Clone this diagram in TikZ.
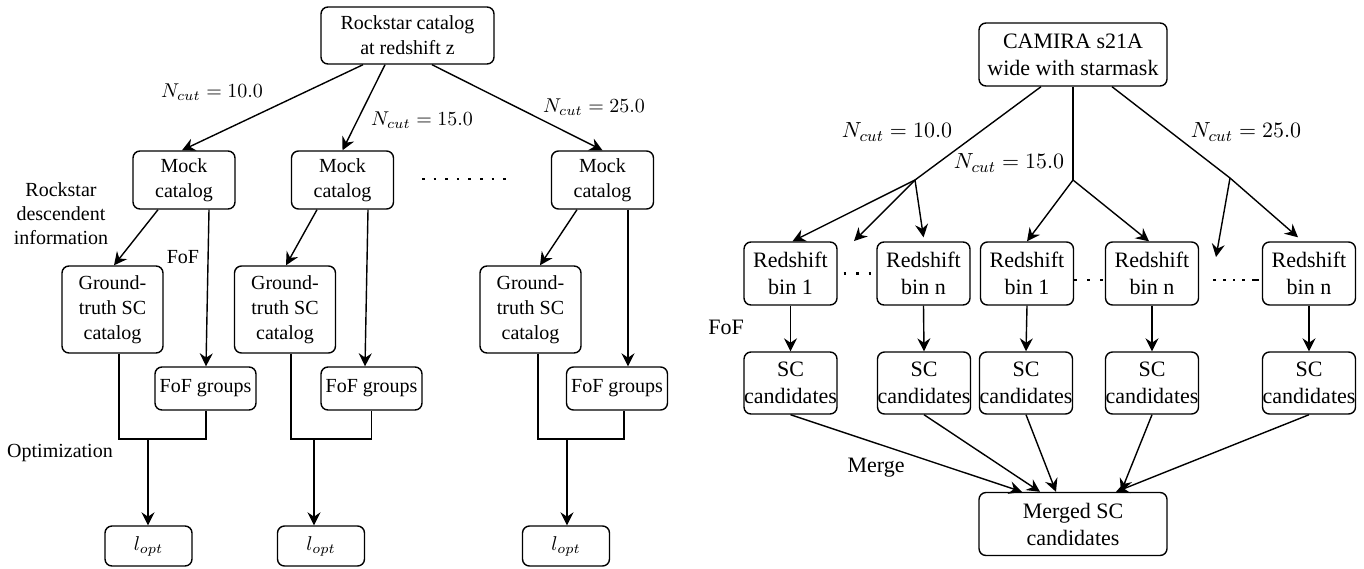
\documentclass[tikz,border=0pt]{standalone}
\usepackage{fontspec}
\setmainfont{Liberation Serif}
\newfontfamily\tnr{Liberation Serif}
\usetikzlibrary{arrows.meta}
\begin{document}
\begin{tikzpicture}[x=0.5pt,y=-0.5pt,
  line width=0.7pt,
  box/.style={draw, rounded corners=3.5pt, align=center, inner sep=0pt, font=\tnr\fontsize{10}{12.5}\selectfont},
  rbox/.style={draw, rounded corners=3.5pt, align=center, inner sep=0pt, font=\tnr\fontsize{11}{13.5}\selectfont},
  rockb/.style={box, minimum width=86.5pt, minimum height=28.5pt},
  mockb/.style={box, minimum width=51pt, minimum height=29pt},
  gtb/.style={box, minimum width=50.5pt, minimum height=43.5pt},
  fofb/.style={box, minimum width=50.5pt, minimum height=21.5pt},
  loptb/.style={box, minimum width=43.5pt, minimum height=20pt},
  camb/.style={rbox, minimum width=94pt, minimum height=31.5pt},
  binb/.style={rbox, minimum width=46.5pt, minimum height=31.5pt},
  scb/.style={rbox, minimum width=46.5pt, minimum height=31pt},
  arr/.style={-{Stealth[length=6.5pt,width=6.5pt,inset=2.2pt]}},
  lbl/.style={inner sep=0pt, align=center, font=\tnr\fontsize{10}{12}\selectfont},
  rlbl/.style={inner sep=0pt, align=center, font=\tnr\fontsize{11}{13.5}\selectfont},
  dotline/.style={line width=1.3pt},
]
\useasboundingbox (0,0) rectangle (1364,568);

% ---------------- Left panel ----------------
\node[rockb] (rock) at (407.5,35.5) {Rockstar catalog\\at redshift z};
\node[mockb] (m1) at (184,180) {Mock\\catalog};
\node[mockb] (m2) at (342.5,180) {Mock\\catalog};
\node[mockb] (m3) at (602.5,180) {Mock\\catalog};
\node[gtb] (g1) at (112.5,309.5) {Ground-\\truth SC\\catalog};
\node[gtb] (g2) at (285,309.5) {Ground-\\truth SC\\catalog};
\node[gtb] (g3) at (530.5,309.5) {Ground-\\truth SC\\catalog};
\node[fofb] (f1) at (205.5,388.5) {FoF groups};
\node[fofb] (f2) at (371.5,388.5) {FoF groups};
\node[fofb] (f3) at (617,388.5) {FoF groups};
\node[loptb] (l1) at (148.5,546) {$l_{opt}$};
\node[loptb] (l2) at (321,546) {$l_{opt}$};
\node[loptb] (l3) at (566,546) {$l_{opt}$};

\node[lbl] (n10) at (212,92) {$N_{cut}=10.0$};
\node[lbl] (n15) at (422,120) {$N_{cut}=15.0$};
\node[lbl] (n25) at (594,107) {$N_{cut}=25.0$};
\node[lbl] (rdi) at (61,214) {Rockstar\\descendent\\information};
\node[lbl] (fofl) at (183,257) {FoF};
\node[lbl] (optl) at (60,453) {Optimization};

\coordinate (dl1) at (422,179);
\coordinate (dl2) at (507,179);
\draw[dotline, dash pattern=on 1.3pt off 4.5pt] (dl1) -- (dl2);

\draw[arr] ([xshift=-22.25pt]rock.south) -- ([xshift=-1pt]m1.north);
\draw[arr] ([xshift=-11.25pt]rock.south) -- (m2.north);
\draw[arr] ([xshift=12.25pt]rock.south) -- (m3.north);

% column 1
\draw[arr] ([xshift=-13pt]m1.south) -- ([xshift=0.75pt]g1.north);
\draw[arr] ([xshift=12.5pt]m1.south) -- ([xshift=0.25pt]f1.north);
\coordinate (j1) at (148,439);
\draw ([xshift=3.25pt]g1.south) |- (j1) -| ([xshift=0.25pt]f1.south);
\draw[arr] (j1) -- (j1 |- l1.north);

% column 2
\draw[arr] ([xshift=-12.75pt]m2.south) -- ([xshift=0.5pt]g2.north);
\draw[arr] ([xshift=12.75pt]m2.south) -- ([xshift=-3.25pt]f2.north);
\coordinate (j2) at (314,439);
\draw ([xshift=3pt]g2.south) |- (j2) -| (f2.south);
\draw[arr] (j2) -- (j2 |- l2.north);

% column 3
\draw[arr] ([xshift=-12.75pt]m3.south) -- ([xshift=4.75pt]g3.north);
\draw[arr] ([xshift=12.75pt]m3.south) -- ([xshift=5.5pt]f3.north);
\coordinate (j3) at (567,439);
\draw ([xshift=3.75pt]g3.south) |- (j3) -| ([xshift=3.5pt]f3.south);
\draw[arr] (j3) -- (j3 |- l3.north);

% ---------------- Right panel ----------------
\node[camb] (cam) at (1073,54.5) {CAMIRA s21A\\wide with starmask};
\node[binb] (bA) at (790.5,273.5) {Redshift\\bin 1};
\node[binb] (bB) at (923.5,273.5) {Redshift\\bin n};
\node[binb] (bC) at (1027,273.5) {Redshift\\bin 1};
\node[binb] (bD) at (1152,273.5) {Redshift\\bin n};
\node[binb] (bE) at (1309,273.5) {Redshift\\bin n};
\node[scb] (sA) at (790.5,383) {SC\\candidates};
\node[scb] (sB) at (924,383) {SC\\candidates};
\node[scb] (sC) at (1026,383) {SC\\candidates};
\node[scb] (sD) at (1152,383) {SC\\candidates};
\node[scb] (sE) at (1309,383) {SC\\candidates};
\node[camb] (mg) at (1073,524) {Merged SC\\candidates};

\node[rlbl] (r10) at (897,132) {$N_{cut}=10.0$};
\node[rlbl] (r15) at (1009,163) {$N_{cut}=15.0$};
\node[rlbl] (r25) at (1246,132) {$N_{cut}=25.0$};
\node[rlbl] (rfof) at (726,327) {FoF};
\node[rlbl] (rmerge) at (876,468) {Merge};

\coordinate (jr1) at (915,180);
\coordinate (jr2) at (1073,180);
\coordinate (jr3) at (1230,178);
\coordinate (d1) at (854,241);
\coordinate (d2) at (1216,257);

\draw ([xshift=-16pt]cam.south) -- (jr1);
\draw (cam.south) -- (jr2);
\draw ([xshift=19.5pt]cam.south) -- (jr3);

\draw[arr] (jr1) -- ([xshift=1pt]bA.north);
\draw[arr] (jr1) -- (d1);
\draw[arr] (jr1) -- ([yshift=2pt]bB.north);
\draw[arr] (jr2) -- (bC.north);
\draw[arr] (jr2) -- ([xshift=-1.5pt]bD.north);
\draw[arr] (jr3) -- (d2);
\draw[arr] (jr3) -- ([xshift=-5.5pt,yshift=2pt]bE.north);

\foreach \b in {A,B,C,D,E} {
  \draw[arr] (b\b.south) -- (s\b.north);
}

\draw[arr] (sA.south) -- ([xshift=-25.5pt]mg.north);
\draw[arr] (sB.south) -- ([xshift=-16.5pt]mg.north);
\draw[arr] (sC.south) -- ([xshift=-8.5pt]mg.north);
\draw[arr] (sD.south) -- ([xshift=24pt]mg.north);
\draw[arr] (sE.south) -- ([xshift=21.5pt]mg.north);

\draw[dotline, dash pattern=on 1.3pt off 4.95pt, dash phase=3.25pt] (bA.east) -- (bB.west);
\draw[dotline, dash pattern=on 1.3pt off 5.2pt] ([yshift=-3.25pt]bC.east) -- ([yshift=-3.25pt]bD.west);
\draw[dotline, dash pattern=on 0pt off 1.5pt on 3.5pt off 3.5pt on 1.3pt off 3.5pt on 1.3pt off 3.5pt on 1.3pt off 3.5pt on 1.3pt off 40pt] ([yshift=-3.25pt]bE.west) -- ([yshift=-3.25pt]bD.east);
\end{tikzpicture}
\end{document}
